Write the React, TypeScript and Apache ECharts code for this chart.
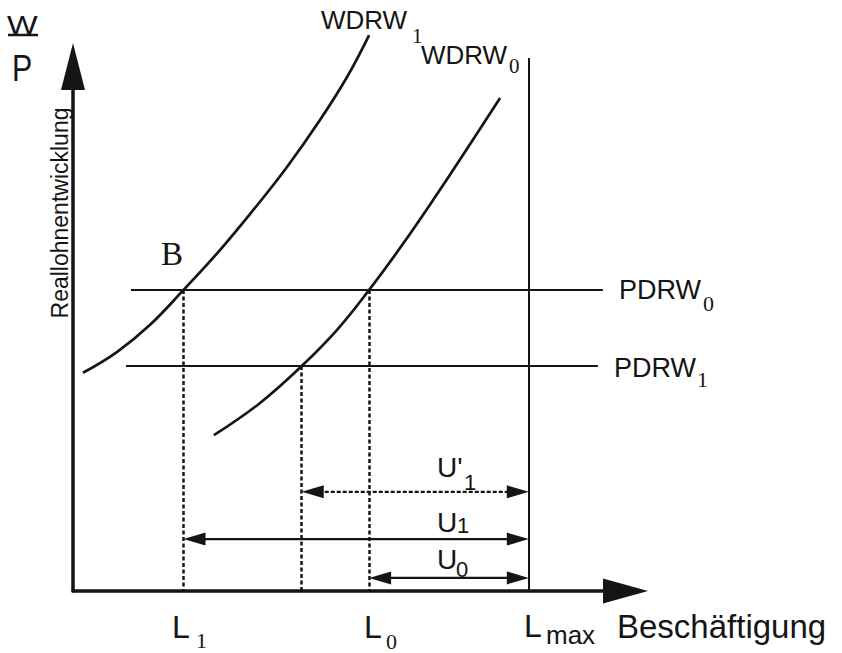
import React, { useEffect, useRef } from 'react';
import * as echarts from 'echarts';

const wdrw1 = [[1.8, 41.6], [8.0, 45.6], [14.0, 50.8], [20.0, 57.4], [26.6, 65.0], [32.6, 72.6], [38.7, 80.8], [44.7, 89.8], [49.6, 98.0], [53.6, 106.0]];
const wdrw0 = [[25.5, 29.7], [33.8, 35.8], [41.4, 42.9], [47.8, 49.8], [53.6, 57.4], [59.6, 66.0], [65.6, 75.2], [71.5, 84.6], [77.3, 94.0]];
// PDRW0, PDRW1 horizontal levels
const pdrwLevels = [57.4, 42.9];
const pdrwFrom = [10.5, 9.6];
const pdrwTo = [95.9, 95.0];
// L1, L'1, L0, Lmax
const employment = [20.0, 41.4, 53.6, 82.5];
const lmaxTop = 101.6;
// U'1, U1, U0 arrow heights
const gapLevels = [18.9, 9.9, 2.5];

const INK = '#151515';
const SANS = '"Liberation Sans", Arial, Helvetica, sans-serif';
const SERIF = '"Liberation Serif", "Times New Roman", serif';

function txt(text: string, x: number, y: number, size: number, family: string, extra: any = {}) {
  return {
    type: 'text',
    x,
    y,
    ...extra,
    style: {
      text,
      fontSize: size,
      fontFamily: family,
      fill: INK,
      textAlign: 'left',
      textVerticalAlign: 'middle',
      ...(extra.style || {}),
    },
  };
}

export default function App() {
  const ref = useRef<HTMLDivElement>(null);
  useEffect(() => {
    if (!ref.current) return;
    const chart = echarts.init(ref.current, undefined, { renderer: 'svg' });
    const [L1, Lp, L0, Lmax] = employment;
    const [P0, P1] = pdrwLevels;
    const arrowData = [
      [Lp, Lmax, gapLevels[0], 1],
      [L1, Lmax, gapLevels[1], 0],
      [L0, Lmax, gapLevels[2], 0],
    ];
    chart.setOption({
      animation: false,
      backgroundColor: '#ffffff',
      grid: { left: 73, top: 66.5, width: 552.5, height: 524.5 },
      xAxis: {
        type: 'value', min: 0, max: 100,
        axisLine: { show: true, lineStyle: { color: INK, width: 3.5 }, symbol: ['none', 'triangle'], symbolSize: [25, 45] },
        axisTick: { show: false }, axisLabel: { show: false }, splitLine: { show: false },
      },
      yAxis: {
        type: 'value', min: 0, max: 100,
        axisLine: { show: true, lineStyle: { color: INK, width: 3.5 }, symbol: ['none', 'triangle'], symbolSize: [24, 47] },
        axisTick: { show: false }, axisLabel: { show: false }, splitLine: { show: false },
      },
      series: [
        { type: 'line', name: 'WDRW1', data: wdrw1, smooth: 0.4, symbol: 'none', clip: false, lineStyle: { color: INK, width: 2.7 } },
        { type: 'line', name: 'WDRW0', data: wdrw0, smooth: 0.4, symbol: 'none', clip: false, lineStyle: { color: INK, width: 2.7 } },
        {
          type: 'lines', name: 'PDRW', coordinateSystem: 'cartesian2d', clip: false, symbol: 'none',
          lineStyle: { color: INK, width: 2, opacity: 1 },
          data: pdrwLevels.map((lv, i) => ({ coords: [[pdrwFrom[i], lv], [pdrwTo[i], lv]] })),
        },
        {
          type: 'lines', name: 'Lmax', coordinateSystem: 'cartesian2d', clip: false, symbol: 'none',
          lineStyle: { color: INK, width: 2, opacity: 1 },
          data: [{ coords: [[Lmax, 0], [Lmax, lmaxTop]] }],
        },
        {
          type: 'lines', name: 'drops', coordinateSystem: 'cartesian2d', clip: false, symbol: 'none',
          lineStyle: { color: INK, width: 2.5, type: [4, 2.5], opacity: 1 },
          data: [
            { coords: [[L1, P0], [L1, 0]] },
            { coords: [[Lp, P1], [Lp, 0]] },
            { coords: [[L0, P0], [L0, 0]] },
          ],
        },
        {
          type: 'custom', name: 'U', data: arrowData, encode: { x: [0, 1], y: 2 },
          renderItem: (params: any, api: any) => {
            const a = api.coord([api.value(0), api.value(2)]);
            const b = api.coord([api.value(1), api.value(2)]);
            const dashed = api.value(3) === 1;
            const HL = 22, HW = 6.5;
            return {
              type: 'group',
              children: [
                {
                  type: 'line',
                  shape: { x1: a[0] + HL * 0.5, y1: a[1], x2: b[0] - HL * 0.5, y2: b[1] },
                  style: { stroke: INK, lineWidth: 2.2, lineDash: dashed ? [4, 2] : null },
                },
                { type: 'polygon', shape: { points: [[a[0], a[1]], [a[0] + HL, a[1] - HW], [a[0] + HL, a[1] + HW]] }, style: { fill: INK } },
                { type: 'polygon', shape: { points: [[b[0], b[1]], [b[0] - HL, b[1] - HW], [b[0] - HL, b[1] + HW]] }, style: { fill: INK } },
              ],
            };
          },
        },
      ],
      graphic: [
        txt('W', 7, 25, 26, SANS, { scaleX: 1.25 }),
        { type: 'line', shape: { x1: 8, y1: 35, x2: 38, y2: 35 }, style: { stroke: INK, lineWidth: 2.5 } },
        txt('P', 12, 68, 37, SANS, { scaleX: 0.82 }),
        { type: 'text', x: 60, y: 213, rotation: Math.PI / 2, style: { text: 'Reallohnentwicklung', fontSize: 23, fontFamily: SANS, fill: INK, textAlign: 'center', textVerticalAlign: 'middle' } },
        txt('WDRW', 321, 20, 26, SANS),
        txt('1', 412, 36, 21, SERIF),
        txt('WDRW', 421, 55, 26, SANS),
        txt('0', 509, 66, 21, SERIF),
        txt('PDRW', 619, 290, 27, SANS),
        txt('0', 703, 303, 22, SERIF),
        txt('PDRW', 614, 368, 27, SANS),
        txt('1', 697, 379, 22, SERIF),
        txt('B', 161, 254, 33, SERIF),
        txt("U'", 437, 467, 28, SANS),
        txt('1', 464, 482, 22, SANS),
        txt('U', 437, 522, 28, SANS),
        txt('1', 457, 525, 22, SANS),
        txt('U', 437, 559, 28, SANS),
        txt('0', 456, 569, 22, SANS),
        txt('L', 172, 627, 32, SANS),
        txt('1', 196, 640, 22, SERIF),
        txt('L', 364, 627, 32, SANS),
        txt('0', 386, 641, 22, SERIF),
        txt('L', 524, 626, 32, SANS),
        txt('max', 546, 635, 26, SANS),
        txt('Beschäftigung', 617, 626, 33, SANS),
      ],
    });
    return () => chart.dispose();
  }, []);
  return <div ref={ref} style={{ position: 'fixed', left: 0, top: 0, width: 842, height: 653, background: '#fff' }} />;
}
